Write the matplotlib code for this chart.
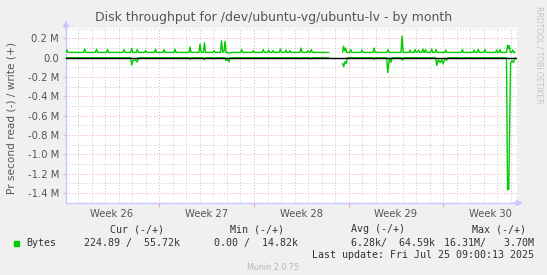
import numpy as np
import matplotlib
matplotlib.use("Agg")
import matplotlib.pyplot as plt
from matplotlib.transforms import blended_transform_factory

# x = days since Mon 2025-06-23 00:00, values in kB/s
write_day = [0.10, 0.17, 0.25,
             1.40, 1.48, 1.56, 2.27, 2.36, 2.44, 3.09, 3.17, 3.25,
             4.31, 4.39, 4.47, 4.88, 4.96, 5.04, 5.29, 5.37, 5.45,
             5.91, 5.99, 6.07, 6.64, 6.72, 6.80, 7.27, 7.35, 7.43,
             8.08, 8.16, 8.24, 9.19, 9.27, 9.35, 9.93, 10.01, 10.09,
             10.26, 10.34, 10.42, 10.96, 11.05, 11.13,
             11.52, 11.60, 11.68, 11.78, 11.86, 11.94, 12.23, 12.40,
             13.01, 13.09, 13.17, 13.87, 13.95, 14.03, 14.61, 14.69, 14.77,
             15.01, 15.09, 15.17, 15.33, 15.41, 15.49, 15.87, 15.95, 16.03,
             16.29, 16.37, 16.45, 16.58, 16.66, 16.74, 17.40, 17.48, 17.56,
             17.91, 18.00, 18.08, 18.16, 18.24, 18.32, 19.53, 20.00,
             20.56, 20.62, 20.70, 20.77, 20.85, 21.07, 21.15, 21.23,
             21.91, 21.99, 22.07, 22.80, 22.88, 22.96, 23.83, 23.91, 23.99,
             24.87, 24.95, 25.03, 25.46, 25.54, 25.62, 25.83, 25.91, 25.99,
             26.09, 26.17, 26.25, 26.40, 26.48, 26.56, 26.60, 26.68, 26.76,
             27.06, 27.14, 27.22, 27.38, 27.46, 27.54, 28.10, 28.18, 28.26,
             29.33, 29.41, 29.49, 30.19, 30.27, 30.35, 30.51, 30.59, 30.67,
             31.00, 31.08, 31.16, 31.87, 31.95, 32.03, 32.11, 32.19, 32.27,
             32.67, 32.75, 32.81, 32.88, 32.96, 33.05, 33.13, 33.21, 33.30]
write_kb = [60, 80, 55,
            55, 90, 55, 55, 88, 55, 55, 85, 55,
            55, 85, 55, 55, 95, 55, 55, 85, 55,
            55, 75, 55, 55, 88, 55, 55, 85, 55,
            55, 88, 55, 55, 110, 55, 55, 140, 55,
            55, 155, 55, 55, 75, 55,
            55, 175, 60, 60, 170, 55, 48, 55,
            55, 85, 55, 55, 75, 55, 55, 85, 55,
            55, 80, 55, 55, 75, 55, 55, 90, 55,
            55, 80, 55, 55, 75, 55, 55, 100, 55,
            55, 75, 55, 55, 85, 55, 55, np.nan,
            60, 120, 70, 100, 55, 55, 85, 55,
            55, 80, 55, 55, 100, 55, 55, 85, 55,
            55, 225, 55, 55, 80, 55, 55, 85, 58,
            58, 80, 55, 55, 90, 55, 55, 85, 55,
            55, 90, 55, 55, 85, 55, 55, 80, 55,
            55, 85, 55, 55, 80, 55, 55, 85, 55,
            55, 85, 55, 55, 80, 55, 55, 85, 55,
            55, 130, 95, 125, 55, 55, 80, 55, 55]

read_day = [0.10, 4.88, 4.96, 5.05, 5.13, 5.25, 5.37, 5.45,
            9.19, 9.27, 9.35, 10.25, 10.33, 10.41, 10.97, 11.05, 11.13,
            11.85, 11.93, 12.05, 12.15, 12.23,
            17.32, 17.40, 17.48, 18.14, 18.22, 18.30, 19.53, 20.00,
            20.56, 20.63, 20.74, 20.82, 20.90,
            22.80, 22.88, 22.96, 23.81, 23.89, 24.01, 24.13, 24.21,
            24.89, 24.97, 25.05,
            27.43, 27.51, 27.63, 27.76, 27.88, 27.98, 28.12, 28.25, 28.33,
            29.30, 29.38, 29.46, 30.23, 30.31, 30.39,
            32.67, 32.75, 32.84, 32.97, 33.08, 33.19, 33.30]
read_kb = [0, 0, -75, -30, -30, -20, -45, 0,
           0, -15, 0, 0, -20, 0, 0, -10, 0,
           0, -30, -20, -42, 0,
           0, -10, 0, 0, -10, 0, 0, np.nan,
           -60, -93, -40, -60, 0,
           0, -15, 0, 0, -155, -10, -45, 0,
           0, -25, 0,
           0, -80, -20, -50, -20, -65, -10, -25, 0,
           0, -10, 0, 0, -10, 0,
           0, -1365, -1365, -60, -30, -50, 0]

week_labels = ["Week 26", "Week 27", "Week 28", "Week 29", "Week 30"]
week_start = [0, 7, 14, 21, 28]

legend_head = ["Cur (-/+)", "Min (-/+)", "Avg (-/+)", "Max (-/+)"]
legend_vals = ["224.89 /  55.72k", "0.00 /  14.82k", "6.28k/  64.59k", "16.31M/   3.70M"]

W, H = 547, 275
BG = "#F0F0F0"
GREEN = "#00CC00"
TXT = "#555555"

fig = plt.figure(figsize=(W / 100, H / 100), dpi=100, facecolor=BG)
ax = fig.add_axes([66 / W, 72 / H, (517.3 - 66) / W, (203 - 28.3) / H])
ax.set_facecolor("white")

x_lo, x_hi = 0.101, 33.47
y_lo, y_hi = -1.505e6, 0.305e6

# grid
for d in range(1, 34):
    col = "#f2a8a8" if d % 7 == 0 else "#c8c8c8"
    ax.axvline(d, color=col, lw=0.7, ls=(0, (1, 2)), zorder=1)
for v in np.arange(-15, 4):
    col = "#f2a8a8" if v % 2 == 0 else "#c8c8c8"
    ax.axhline(v * 1e5, color=col, lw=0.7, ls=(0, (1, 2)), zorder=1)

ax.plot(write_day, np.array(write_kb) * 1e3, color=GREEN, lw=1, zorder=3)
ax.plot(read_day, np.array(read_kb) * 1e3, color=GREEN, lw=1, zorder=3)
ax.axhline(0, color="black", lw=1, zorder=4)

ax.set_xlim(x_lo, x_hi)
ax.set_ylim(y_lo, y_hi)

for s in ["top", "right"]:
    ax.spines[s].set_visible(False)
for s in ["left", "bottom"]:
    ax.spines[s].set_color("#c8c8ff")
    ax.spines[s].set_linewidth(1)

ax.annotate("", xy=(0, 1.045), xytext=(0, 0.99), xycoords="axes fraction",
            arrowprops=dict(arrowstyle="-|>,head_width=0.18,head_length=0.35",
                            color="#c8c8ff", lw=1, shrinkA=0, shrinkB=0))
ax.annotate("", xy=(1.012, 0), xytext=(0.99, 0), xycoords="axes fraction",
            arrowprops=dict(arrowstyle="-|>,head_width=0.18,head_length=0.35",
                            color="#c8c8ff", lw=1, shrinkA=0, shrinkB=0))

yt = np.arange(-14, 3, 2) * 1e5
ax.set_yticks(yt)
ax.set_yticklabels(["0.0" if abs(v) < 1 else f"{v / 1e6:.1f} M" for v in yt])
ax.tick_params(axis="y", length=2, color="#c8c8c8", labelsize=7.2,
               labelcolor=TXT, pad=3)
ax.set_xticks(week_start[1:])
ax.set_xticklabels([])
ax.tick_params(axis="x", length=3, color="#f2a8a8")

tr = blended_transform_factory(ax.transData, fig.transFigure)
for lab, ws in zip(week_labels, week_start):
    ax.text(ws + 3.5, 1 - 214 / H, lab, transform=tr, ha="center", va="center",
            fontsize=7.2, color=TXT)

fig.text(274 / W, 1 - 18 / H, "Disk throughput for /dev/ubuntu-vg/ubuntu-lv - by month",
         ha="center", va="center", fontsize=9, color=TXT)
fig.text(12 / W, 1 - 118 / H, "Pr second read (-) / write (+)", rotation=90,
         ha="center", va="center", fontsize=7.6, color=TXT)
fig.text(539 / W, 1 - 55 / H, "RRDTOOL / TOBI OETIKER", rotation=270,
         ha="center", va="center", fontsize=5.5, color="#c4c4c4")

# legend block
mono = "DejaVu Sans Mono"
head_right = [164, 284, 405, 526]
val_right = [180, 297.6, 434.6, 533.5]
for h, xr in zip(legend_head, head_right):
    fig.text(xr / W, 1 - 229.5 / H, h, ha="right", va="center", family=mono,
             fontsize=7.2, color="#333333")
fig.patches.append(plt.Rectangle((14 / W, 1 - 245.5 / H), 5 / W, 5 / H,
                                 transform=fig.transFigure, color=GREEN))
fig.text(26 / W, 1 - 242.8 / H, "Bytes", ha="left", va="center", family=mono,
         fontsize=7.2, color="#333333")
for v, xr in zip(legend_vals, val_right):
    fig.text(xr / W, 1 - 242.8 / H, v, ha="right", va="center", family=mono,
             fontsize=7.2, color="#333333")
fig.text(533.5 / W, 1 - 255 / H, "Last update: Fri Jul 25 09:00:13 2025", ha="right",
         va="center", family=mono, fontsize=7.2, color="#333333")
fig.text(273 / W, 1 - 268 / H, "Munin 2.0.75", ha="center", va="center",
         fontsize=5.8, color="#b4b4b4")

fig.savefig("out.png", dpi=100, facecolor=BG)
